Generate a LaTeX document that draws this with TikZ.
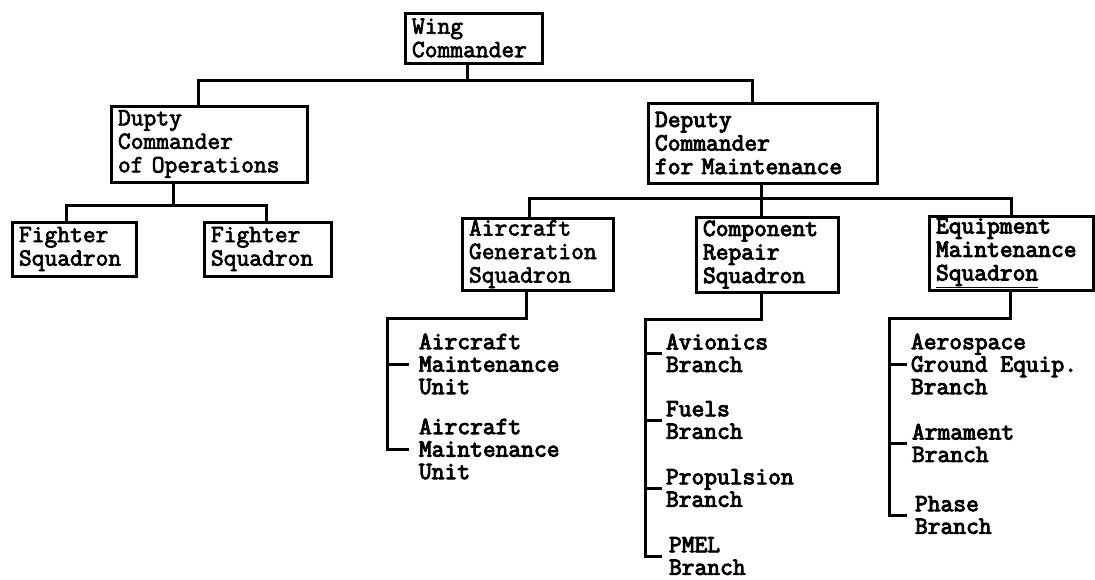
\documentclass[tikz,border=0pt]{standalone}
\usepackage{fontspec}
\newfontfamily\chartfont[FakeBold=2.8]{Latin Modern Mono}
\newfontfamily\chartbold[FakeBold=3.8]{Latin Modern Mono}
\begin{document}
\begin{tikzpicture}[x=1pt,y=-1pt,
  box/.style={draw, line width=3pt, outer sep=0pt, anchor=north west, align=left,
    inner xsep=7pt, inner ysep=0pt, font=\chartfont\fontsize{24.8}{23.5}\selectfont},
  heavy/.style={font=\chartbold\fontsize{24.8}{23.5}\selectfont},
  leaf/.style={anchor=west, outer sep=0pt, align=left, inner xsep=6pt, inner ysep=0pt,
    font=\chartbold\fontsize{24.8}{22.5}\selectfont},
  conn/.style={line width=3pt, line cap=rect}]
\useasboundingbox (0,0) rectangle (1095,579);

% boxes
\node[box, text width=123pt, minimum height=50pt] (wing) at (405,13) {Wing\\Commander};
\node[box, text width=182pt, minimum height=76pt] (dupty) at (111,106) {Dupty\\Commander\\of Operations};
\node[box, heavy, text width=215pt, minimum height=80pt] (dm) at (648,103) {Deputy\\Commander\\for Maintenance};
\node[box, text width=110pt, minimum height=54pt] (fs1) at (12,222) {Fighter\\Squadron};
\node[box, text width=113pt, minimum height=54pt] (fs2) at (204,222) {Fighter\\Squadron};
\node[box, text width=137pt, minimum height=72pt] (ag) at (462,218) {Aircraft\\Generation\\Squadron};
\node[box, heavy, text width=128pt, minimum height=75pt] (cr) at (696,217) {Component\\Repair\\Squadron};
\node[box, heavy, text width=150pt, minimum height=74pt] (eq) at (929,216) {Equipment\\Maintenance\\\underline{Squadron}};

% leaf units
\node[leaf, inner xsep=12pt] (amu1) at (407,364) {Aircraft\\Maintenance\\Unit};
\node[leaf, inner xsep=12pt] (amu2) at (407,449) {Aircraft\\Maintenance\\Unit};
\node[leaf] (avi) at (660,353) {Avionics\\Branch};
\node[leaf] (fue) at (660,420) {Fuels\\Branch};
\node[leaf] (pro) at (660,488) {Propulsion\\Branch};
\node[leaf, inner xsep=9pt] (pme) at (660,556) {PMEL\\Branch};
\node[leaf] (aer) at (905,364) {Aerospace\\Ground Equip.\\Branch};
\node[leaf, inner xsep=7pt] (arm) at (905,443) {Armament\\Branch};
\node[leaf, inner xsep=10pt] (pha) at (905,515) {Phase\\Branch};

% trunks of the leaf lists
\coordinate (agT) at (387,318);
\coordinate (crT) at (645,319);
\coordinate (eqT) at (889,318);

% wing commander to deputies
\draw[conn] ([xshift=-6pt]wing.south) -- ++(0,17);
\draw[conn] ([xshift=-11pt]dupty.north) -- ++(0,-26) -| ([xshift=-10pt]dm.north);

% operations to squadrons
\draw[conn] ([xshift=-36pt]dupty.south) -- ++(0,23);
\draw[conn] ([xshift=-8pt]fs1.north) -- ++(0,-17) -| ([xshift=-1.5pt]fs2.north);

% maintenance to squadrons
\draw[conn] ([xshift=-1.5pt]dm.south) -- ++(0,15);
\draw[conn] ([xshift=-8.5pt]ag.north) -- ++(0,-20) -| (eq.north);
\draw[conn] ([xshift=-6pt]cr.north) -- ++(0,-19);

% aircraft generation units
\draw[conn] ([xshift=-11.5pt]ag.south) |- (agT) -- (agT |- amu2.west) -- (amu2.west);
\draw[conn] (agT |- amu1.west) -- (amu1.west);

% component repair branches
\draw[conn] ([xshift=-6pt]cr.south) |- (crT) -- (crT |- pme.west) -- (pme.west);
\draw[conn] (crT |- avi.west) -- (avi.west);
\draw[conn] (crT |- fue.west) -- (fue.west);
\draw[conn] (crT |- pro.west) -- (pro.west);

% equipment maintenance branches
\draw[conn] ([xshift=-1pt]eq.south) |- (eqT) -- (eqT |- pha.west) -- (pha.west);
\draw[conn] (eqT |- aer.west) -- (aer.west);
\draw[conn] (eqT |- arm.west) -- (arm.west);
\end{tikzpicture}
\end{document}
